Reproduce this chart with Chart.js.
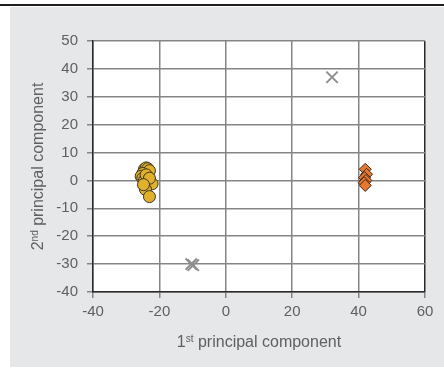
<!DOCTYPE html>
<html>
<head>
<meta charset="utf-8">
<style>
  html, body { margin: 0; padding: 0; background: #ffffff; }
  #wrap { width: 444px; height: 371px; position: relative; }
</style>
<script src="https://cdn.jsdelivr.net/npm/chart.js@4.4.1/dist/chart.umd.min.js"></script>
</head>
<body>
<div id="wrap"><canvas id="pca" width="444" height="371"></canvas></div>
<script>
// Scores on the first two principal components, one array per group
const groupA = [
    { x: -24.5, y: 4.0 }, { x: -24.0, y: 4.5 }, { x: -23.5, y: 4.2 },
    { x: -23.0, y: 3.5 }, { x: -25.0, y: 2.5 }, { x: -25.5, y: 1.5 },
    { x: -25.0, y: 0.8 }, { x: -24.5, y: 0.0 }, { x: -23.5, y: -0.5 },
    { x: -22.2, y: -1.2 }, { x: -24.0, y: 2.0 }, { x: -23.0, y: 0.8 },
    { x: -24.2, y: -3.2 }, { x: -23.0, y: -5.8 }, { x: -24.8, y: -1.5 }
];
const groupB = [
    { x: 42.0, y: 4.0 }, { x: 42.4, y: 2.2 }, { x: 41.8, y: 1.0 },
    { x: 42.2, y: 0.0 }, { x: 41.7, y: -0.8 }, { x: 42.0, y: -1.8 }
];
const outliers = [
    { x: -10.4, y: -30.0 }, { x: -9.8, y: -30.4 }, { x: 32.0, y: 37.0 }
];
const xTicks = [-40, -20, 0, 20, 40, 60];
const yTicks = [-40, -30, -20, -10, 0, 10, 20, 30, 40, 50];

const textColor = "#606060";
const gridColor = "#858585";
const axisColor = "#2a2a2a";
const fontFamily = "'Liberation Sans', Arial, sans-serif";

// Panel background, rule across the top, and the two axis titles with superscripts
const panelPlugin = {
    id: "panel",
    beforeDraw(chart) {
        const ctx = chart.ctx;
        ctx.save();
        ctx.fillStyle = "#e6e7e8";
        ctx.fillRect(10, 7, 434, 360);
        ctx.fillStyle = "#1e1e1e";
        ctx.fillRect(0, 4, 444, 2);
        const a = chart.chartArea;
        ctx.fillStyle = "#ffffff";
        ctx.fillRect(a.left, a.top, a.right - a.left, a.bottom - a.top);
        ctx.restore();
    },
    afterDraw(chart) {
        const ctx = chart.ctx;
        const a = chart.chartArea;
        function titleWithSup(num, sup, rest, cx, cy) {
            ctx.font = "16px " + fontFamily;
            const w1 = ctx.measureText(num).width;
            const w3 = ctx.measureText(rest).width;
            ctx.font = "10px " + fontFamily;
            const w2 = ctx.measureText(sup).width;
            let x = cx - (w1 + w2 + w3) / 2;
            ctx.textBaseline = "alphabetic";
            ctx.textAlign = "left";
            ctx.font = "16px " + fontFamily;
            ctx.fillText(num, x, cy);
            x += w1;
            ctx.font = "10px " + fontFamily;
            ctx.fillText(sup, x, cy - 5);
            x += w2;
            ctx.font = "16px " + fontFamily;
            ctx.fillText(rest, x, cy);
        }
        ctx.save();
        ctx.fillStyle = textColor;
        titleWithSup("1", "st", " principal component", (a.left + a.right) / 2, 347);
        ctx.translate(43, (a.top + a.bottom) / 2);
        ctx.rotate(-Math.PI / 2);
        titleWithSup("2", "nd", " principal component", 0, 0);
        ctx.restore();
    }
};

new Chart(document.getElementById("pca"), {
    type: "scatter",
    data: {
        datasets: [
            {
                label: "group A",
                data: groupA,
                pointStyle: "circle",
                pointRadius: 6,
                backgroundColor: "#e1b12b",
                borderColor: "#3b3524",
                borderWidth: 1
            },
            {
                label: "group B",
                data: groupB,
                pointStyle: "rectRot",
                pointRadius: 6,
                backgroundColor: "#e9772d",
                borderColor: "#3b2a1e",
                borderWidth: 1
            },
            {
                label: "outliers",
                data: outliers,
                pointStyle: "crossRot",
                pointRadius: 8,
                borderColor: "#8e8e8e",
                borderWidth: 2
            }
        ]
    },
    options: {
        responsive: false,
        animation: false,
        layout: { padding: { left: 10, right: 19, top: 41, bottom: 4 } },
        plugins: {
            legend: { display: false },
            tooltip: { enabled: false }
        },
        scales: {
            x: {
                type: "linear",
                min: -40,
                max: 60,
                afterBuildTicks(scale) {
                    scale.ticks = xTicks.map(v => ({ value: v }));
                },
                afterFit(scale) { scale.height = 75; },
                grid: {
                    color: ctx => (ctx.tick && ctx.tick.value === 60 ? axisColor : gridColor),
                    lineWidth: 1.5,
                    tickLength: 6,
                    tickColor: gridColor
                },
                border: { color: axisColor, width: 1.5 },
                ticks: {
                    color: textColor,
                    padding: 5,
                    maxRotation: 0,
                    font: { size: 15, family: fontFamily }
                }
            },
            y: {
                type: "linear",
                min: -40,
                max: 50,
                afterBuildTicks(scale) {
                    scale.ticks = yTicks.map(v => ({ value: v }));
                },
                afterFit(scale) { scale.width = 83; },
                grid: {
                    color: gridColor,
                    lineWidth: 1.5,
                    tickLength: 6,
                    tickColor: gridColor
                },
                border: { color: axisColor, width: 1.5 },
                ticks: {
                    color: textColor,
                    padding: 9,
                    font: { size: 15, family: fontFamily }
                }
            }
        }
    },
    plugins: [panelPlugin]
});
</script>
</body>
</html>
